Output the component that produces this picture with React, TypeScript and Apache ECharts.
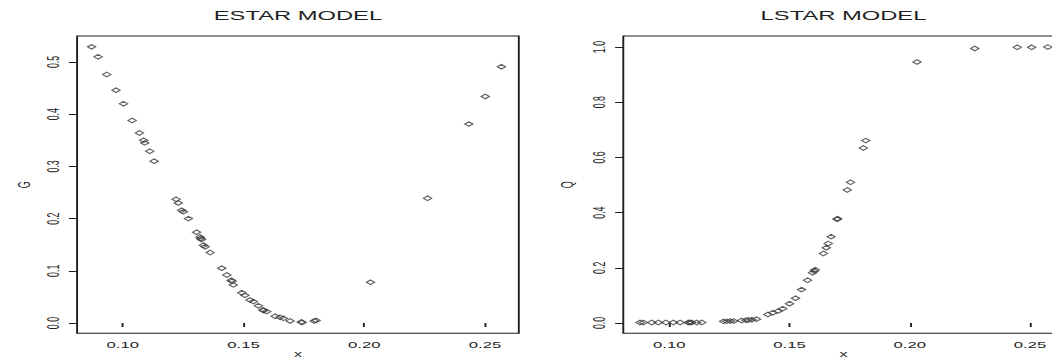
import React, { useEffect, useRef } from "react";
import * as echarts from "echarts";

// ---- data ----
const estarX = [
  0.0871, 0.0898, 0.0934, 0.0972, 0.1003, 0.1039, 0.1069, 0.1087, 0.1091, 0.1112, 0.113,
  0.1221, 0.123, 0.1244, 0.1251, 0.1272, 0.1306, 0.132, 0.1323, 0.1326, 0.1334, 0.1341, 0.1362,
  0.141, 0.1431, 0.1449, 0.1453, 0.1458, 0.1493, 0.1506, 0.1527, 0.1541, 0.1562, 0.158, 0.1584,
  0.1596, 0.1631, 0.1651, 0.1665, 0.1693, 0.1739, 0.1743, 0.1793, 0.1801,
  0.2026, 0.2262, 0.2433, 0.2501, 0.2568,
];
const estarG = [
  0.529, 0.51, 0.476, 0.446, 0.42, 0.388, 0.364, 0.35, 0.345, 0.329, 0.31,
  0.237, 0.23, 0.216, 0.213, 0.2, 0.174, 0.165, 0.162, 0.16, 0.149, 0.146, 0.135,
  0.105, 0.092, 0.082, 0.08, 0.073, 0.058, 0.053, 0.044, 0.041, 0.033, 0.025, 0.024,
  0.022, 0.013, 0.011, 0.009, 0.004, 0.002, 0.001, 0.004, 0.005,
  0.078, 0.239, 0.381, 0.434, 0.491,
];
const lstarX = [
  0.0878, 0.0892, 0.0927, 0.0955, 0.0986, 0.1017, 0.1045, 0.1079, 0.1086, 0.1093, 0.1114, 0.1135,
  0.1226, 0.124, 0.1254, 0.1268,
  0.1301, 0.1319, 0.1329, 0.1343, 0.1363,
  0.141, 0.1431, 0.1452, 0.1472, 0.15, 0.1525, 0.155, 0.1575, 0.1596, 0.1603, 0.1607,
  0.1641, 0.1653, 0.1661, 0.1673, 0.1698, 0.17, 0.174, 0.1754, 0.1807, 0.1817,
  0.203, 0.227, 0.2447, 0.2507, 0.2574,
];
const lstarQ = [
  0.002, 0.002, 0.002, 0.002, 0.002, 0.002, 0.002, 0.002, 0.002, 0.002, 0.002, 0.002,
  0.006, 0.006, 0.007, 0.007,
  0.009, 0.01, 0.011, 0.012, 0.014,
  0.031, 0.037, 0.043, 0.052, 0.07, 0.09, 0.121, 0.155, 0.182, 0.188, 0.193,
  0.252, 0.273, 0.288, 0.313, 0.376, 0.378, 0.482, 0.51, 0.634, 0.661,
  0.946, 0.995, 0.999, 0.999, 1.0,
];
const xTicks = [0.1, 0.15, 0.2, 0.25];
const gTicks = [0, 0.1, 0.2, 0.3, 0.4, 0.5];
const qTicks = [0, 0.2, 0.4, 0.6, 0.8, 1.0];
const titles = ["ESTAR MODEL", "LSTAR MODEL"];
const yNames = ["G", "Q"];
const xName = "x";

// horizontal stretch of the whole figure (the reference is stretched sideways)
const S = 1.9;
const INNER_W = 566;
const H = 362;

export default function App() {
  const ref = useRef<HTMLDivElement>(null);
  useEffect(() => {
    if (!ref.current) return;
    const chart = echarts.init(ref.current, null, { renderer: "svg" });
    const ink = "#1e1e1e";
    const txt = "#1f1f1f";
    const font = "Liberation Sans, Arial, sans-serif";
    const boxes = [
      { x0: 77.1, x1: 518.8 },
      { x0: 623.3, x1: 1063.7 },
    ];
    const top = 36;
    const bottom = 333.3;
    const grid = boxes.map((b) => ({
      left: b.x0 / S,
      width: (b.x1 - b.x0) / S,
      top,
      height: bottom - top,
      show: true,
      borderColor: ink,
      borderWidth: 1,
      backgroundColor: "transparent",
      outerBoundsMode: "none",
      containLabel: false,
    }));
    const xRanges = [
      [0.0811, 0.264],
      [0.0809, 0.264],
    ];
    const yRanges = [
      [-0.0197, 0.5498],
      [-0.0373, 1.04],
    ];
    const yTickSets = [gTicks, qTicks];
    const xAxis = [0, 1].map((i) => ({
      type: "value",
      gridIndex: i,
      min: xRanges[i][0],
      max: xRanges[i][1],
      name: xName,
      nameLocation: "middle",
      nameGap: 16,
      nameMoveOverlap: false,
      nameTextStyle: { color: txt, fontFamily: font, fontSize: 8.5 },
      axisLine: { show: false },
      splitLine: { show: false },
      axisTick: {
        show: true,
        length: 4,
        customValues: xTicks,
        lineStyle: { color: ink, width: 1 },
      },
      axisLabel: {
        customValues: xTicks,
        formatter: (v: number) => v.toFixed(2),
        color: txt,
        fontFamily: font,
        fontSize: 8.8,
        margin: 7,
      },
    }));
    const yAxis = [0, 1].map((i) => ({
      type: "value",
      gridIndex: i,
      min: yRanges[i][0],
      max: yRanges[i][1],
      name: yNames[i],
      nameLocation: "middle",
      nameRotate: 90,
      nameGap: i === 0 ? 23 : 25,
      nameMoveOverlap: false,
      nameTextStyle: { color: txt, fontFamily: font, fontSize: 9 },
      axisLine: { show: false },
      splitLine: { show: false },
      axisTick: {
        show: true,
        length: 4.3,
        customValues: yTickSets[i],
        lineStyle: { color: ink, width: 1 },
      },
      axisLabel: {
        customValues: yTickSets[i],
        formatter: (v: number) => v.toFixed(1),
        rotate: 90,
        color: txt,
        fontFamily: font,
        fontSize: 8.8,
        margin: 8,
      },
    }));
    const mk = (xs: number[], ys: number[], i: number) => ({
      type: "scatter",
      xAxisIndex: i,
      yAxisIndex: i,
      symbol: "diamond",
      symbolSize: [4.3, 4.6],
      itemStyle: { color: "rgba(0,0,0,0)", borderColor: "#3a3a3a", borderWidth: 0.9 },
      data: xs.map((x, k) => [x, ys[k]]),
      silent: true,
    });
    chart.setOption({
      animation: false,
      backgroundColor: "#ffffff",
      title: boxes.map((b, i) => ({
        text: titles[i],
        left: (b.x0 + b.x1) / 2 / S,
        top: 9,
        padding: 0,
        textAlign: "center",
        textStyle: { color: txt, fontFamily: font, fontSize: 12.5, fontWeight: "normal" },
      })),
      grid,
      xAxis,
      yAxis,
      series: [mk(estarX, estarG, 0), mk(lstarX, lstarQ, 1)],
    });
    return () => chart.dispose();
  }, []);
  return (
    <div
      style={{
        position: "fixed",
        left: 0,
        top: 0,
        width: 1052,
        height: H,
        overflow: "hidden",
        background: "#ffffff",
      }}
    >
      <div
        ref={ref}
        style={{
          width: INNER_W,
          height: H,
          transform: `scaleX(${S})`,
          transformOrigin: "0 0",
        }}
      />
    </div>
  );
}
